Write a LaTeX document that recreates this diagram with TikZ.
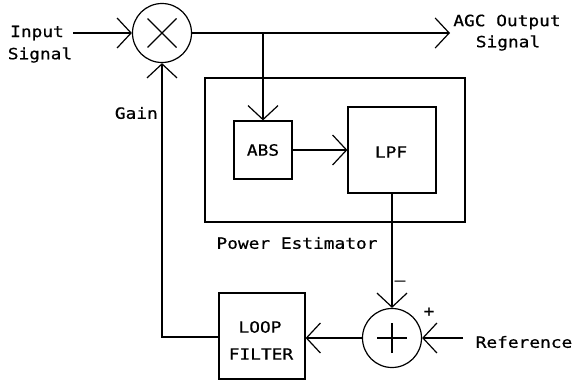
\documentclass[tikz,border=0pt]{standalone}
\usepackage{fontspec}
\usetikzlibrary{arrows.meta}
\newfontfamily\plt{DejaVu Sans Mono}[FakeStretch=1.15,FakeBold=0.6]
\tikzset{
  base/.style={line width=1.2pt},
  arr/.style={base,-{Straight Barb[length=14pt,width=30pt,line width=1.2pt]}},
  blk/.style={base,draw,rectangle,inner sep=0pt},
  sumnode/.style={base,draw,circle,minimum size=59pt,inner sep=0pt},
  lbl/.style={font=\plt\fontsize{15.5pt}{18pt}\selectfont,inner sep=0pt}
}
\begin{document}
\begin{tikzpicture}[x=1pt,y=-1pt]
\useasboundingbox (0,0) rectangle (581,383);
% nodes
\node[sumnode] (mult) at (162,33) {};
\node[sumnode] (sum) at (392,338) {};
\node[blk,minimum width=260pt,minimum height=144pt] (pe) at (335,150) {};
\node[blk,minimum width=58pt,minimum height=58pt] (abs) at (263,150) {};
\node[blk,minimum width=88pt,minimum height=86pt] (lpf) at (392,150) {};
\node[blk,minimum width=86pt,minimum height=86pt] (lf) at (262,336) {};
% symbols inside circles
\draw[base] ([shift={(-14.5,-14.5)}]mult.center) -- ([shift={(14.5,14.5)}]mult.center);
\draw[base] ([shift={(-14.5,14.5)}]mult.center) -- ([shift={(14.5,-14.5)}]mult.center);
\draw[base] ([xshift=-15pt]sum.center) -- ([xshift=15pt]sum.center);
\draw[base] ([yshift=-15pt]sum.center) -- ([yshift=15pt]sum.center);
% labels
\node[lbl] (tin) at (37,33) {Input};
\node[lbl] (tins) at (40,55) {Signal};
\node[lbl] (tout) at (507,22) {AGC Output};
\node[lbl] (touts) at (508,43) {Signal};
\node[lbl,anchor=east] (tgain) at (158,113) {Gain};
\node[lbl] (tabs) at (263,150) {ABS};
\node[lbl] (tlpf) at (391,152) {LPF};
\node[lbl] (tpe) at (297,243) {Power Estimator};
\node[lbl] (tloop) at (260,327) {LOOP};
\node[lbl] (tfilt) at (261,354) {FILTER};
\node[lbl] (tminus) at (400,283) {–};
\node[lbl] (tplus) at (429,312) {+};
\node[lbl] (tref) at (524,342) {Reference};
% coordinates
\coordinate (inS) at (73,33);
\coordinate (outE) at (450,33);
\coordinate (refS) at (463,338);
\coordinate (gainC) at (162,337);
% connectors
\draw[arr] (inS) -- (mult.west);
\draw[arr] (mult.east) -- (outE);
\draw[arr] (abs.north |- mult.east) -- (abs.north);
\draw[arr] (abs.east) -- (lpf.west |- abs.east);
\draw[arr] (lpf.south) -- (sum.north);
\draw[arr] (refS) -- (sum.east);
\draw[arr] (sum.west) -- (lf.east |- sum.west);
\draw[arr] (lf.west |- gainC) -- (gainC) -- (mult.south);
\end{tikzpicture}
\end{document}
